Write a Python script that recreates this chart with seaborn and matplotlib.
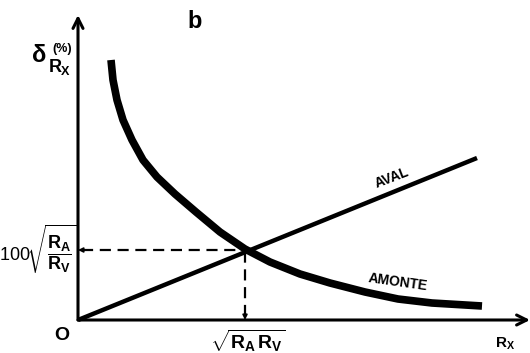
import matplotlib
matplotlib.use("Agg")
import matplotlib.pyplot as plt
import seaborn as sns
import pandas as pd

sns.set_style("white")
plt.rcParams['font.family'] = ['Liberation Sans', 'DejaVu Sans']
plt.rcParams['text.color'] = 'black'
plt.rcParams['mathtext.fontset'] = 'custom'
plt.rcParams['mathtext.rm'] = 'Liberation Sans:bold'
plt.rcParams['mathtext.it'] = 'Liberation Sans:bold'
plt.rcParams['mathtext.bf'] = 'Liberation Sans:bold'
plt.rcParams['mathtext.sf'] = 'Liberation Sans'

# Data (schematic units, origin at 0,0)
aval_x = [0, 399]
aval_y = [0, 162]
amonte_x = [33, 35, 39, 45, 54, 65, 79, 97, 118, 142, 167, 192, 222, 252, 287, 320, 354, 404]
amonte_y = [260, 240, 220, 200, 180, 160, 143, 126, 108, 88, 71, 58, 46, 37, 28, 21, 17, 14]
cross_x = 167
cross_y = 70
x_axis_end = 452
y_axis_end = 305

aval = pd.DataFrame({"x": aval_x, "y": aval_y})
amonte = pd.DataFrame({"x": amonte_x, "y": amonte_y})

fig = plt.figure(figsize=(5.3, 3.53), dpi=100)
ax = fig.add_axes([0, 0, 1, 1])
ax.set_xlim(-78, 452)
ax.set_ylim(-33, 320)
ax.axis('off')

sns.lineplot(data=aval, x="x", y="y", ax=ax, color="black", linewidth=3.2,
             solid_capstyle='butt', sort=False)
sns.lineplot(data=amonte, x="x", y="y", ax=ax, color="black", linewidth=5.5,
             solid_capstyle='butt', solid_joinstyle='round', sort=False)

# dashed guides
ax.plot([4, cross_x], [cross_y, cross_y], color="black", lw=1.6, ls=(0, (5, 3)))
ax.plot([cross_x, cross_x], [4, cross_y], color="black", lw=1.6, ls=(0, (5, 3)))
ax.annotate("", xy=(0, cross_y), xytext=(8, cross_y),
            arrowprops=dict(arrowstyle="-|>", color="black", lw=1.2,
                            mutation_scale=7, shrinkA=0, shrinkB=0))
ax.annotate("", xy=(cross_x, 0), xytext=(cross_x, 8),
            arrowprops=dict(arrowstyle="-|>", color="black", lw=1.2,
                            mutation_scale=7, shrinkA=0, shrinkB=0))

# axes with arrows
ax.annotate("", xy=(x_axis_end, 0), xytext=(0, 0),
            arrowprops=dict(arrowstyle="->", color="black", lw=2.2,
                            mutation_scale=18, shrinkA=0, shrinkB=0))
ax.annotate("", xy=(0, y_axis_end), xytext=(0, 0),
            arrowprops=dict(arrowstyle="->", color="black", lw=2.2,
                            mutation_scale=18, shrinkA=0, shrinkB=0))

# texts
ax.text(117, 298, "b", fontsize=17, fontweight='bold', ha='center', va='center')
ax.text(-39, 265, "δ", fontsize=17, fontweight='bold', ha='center', va='center')
ax.text(-16, 271, "(%)", fontsize=9, fontweight='bold', ha='center', va='center')
ax.text(-18, 253, r'$R_X$', fontsize=13, ha='center', va='center')
ax.text(-2, cross_y + 1, r'$\mathsf{100}\!\sqrt{\dfrac{R_A}{R_V}}$', fontsize=13,
        ha='right', va='center')
ax.text(-16, -16, "O", fontsize=14, fontweight='bold', ha='center', va='center')
ax.text(cross_x + 3, -8, r'$\sqrt{R_A\,R_V}$', fontsize=14, ha='center', va='top')
ax.text(427, -32, r'$R_X$', fontsize=11, ha='center', va='bottom')
ax.text(314, 142, "AVAL", fontsize=10, fontweight='bold', ha='center', va='center', rotation=21)
ax.text(320, 38, "AMONTE", fontsize=10, fontweight='bold', ha='center', va='center', rotation=-8)

fig.savefig("out.png", dpi=100)
